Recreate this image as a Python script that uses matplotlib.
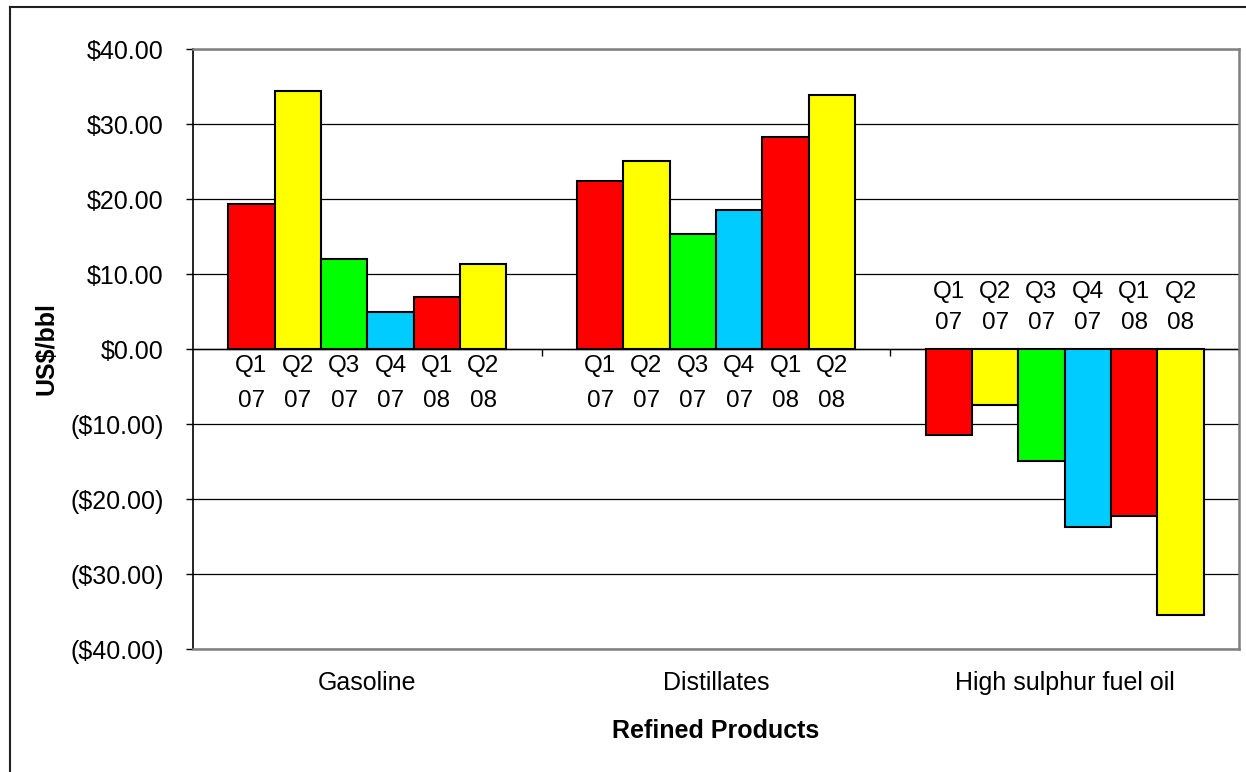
import matplotlib.pyplot as plt
from matplotlib.lines import Line2D
from matplotlib.ticker import FuncFormatter

# crack spreads by product and quarter (US$/bbl)
products = ["Gasoline", "Distillates", "High sulphur fuel oil"]
quarters = ["Q1\n07", "Q2\n07", "Q3\n07", "Q4\n07", "Q1\n08", "Q2\n08"]
gasoline = [19.4, 34.4, 12.0, 5.0, 7.0, 11.4]
distillates = [22.4, 25.1, 15.4, 18.6, 28.3, 33.9]
hsfo = [-11.5, -7.5, -14.9, -23.7, -22.2, -35.5]
bar_colors = ["#FF0000", "#FFFF00", "#00FF00", "#00CCFF", "#FF0000", "#FFFF00"]

plt.rcParams["font.family"] = ["Liberation Sans", "DejaVu Sans"]


def money(v, pos=None):
    if v < 0:
        return "(${:.2f})".format(-v)
    return "${:.2f}".format(v)


def main():
    fig = plt.figure(figsize=(12.46, 7.72), dpi=100)
    ax = fig.add_axes([0.1549, 0.1593, 0.8395, 0.7772])

    values = [gasoline, distillates, hsfo]
    width = 0.133
    n = len(quarters)

    for i, series in enumerate(values):
        for j, v in enumerate(series):
            x = i + (j - (n - 1) / 2) * width
            ax.bar(x, v, width=width, color=bar_colors[j],
                   edgecolor="black", linewidth=1.5, zorder=3)
            # quarter label sits at the zero line, on the opposite side of the bar
            if v >= 0:
                ax.text(x, -0.8, quarters[j], ha="center", va="top",
                        fontsize=17.5, linespacing=1.75, zorder=4)
            else:
                ax.text(x, 2.0, quarters[j], ha="center", va="bottom",
                        fontsize=17.5, linespacing=1.55, zorder=4)

    ax.set_xlim(-0.5, 2.5)
    ax.set_ylim(-40, 40)
    ax.set_yticks(range(-40, 41, 10))
    ax.yaxis.set_major_formatter(FuncFormatter(money))
    ax.tick_params(axis="y", direction="out", length=5, width=1,
                   labelsize=18, pad=16, colors="black")
    ax.set_xticks([])

    ax.grid(axis="y", color="black", linewidth=0.9, zorder=0)
    ax.axhline(0, color="black", linewidth=1, zorder=2)
    ax.vlines([0.5, 1.5, 2.5], -0.9, 0, color="black", linewidth=1, zorder=2)

    for side in ["top", "right", "bottom"]:
        ax.spines[side].set_color("#808080")
        ax.spines[side].set_linewidth(1.8)
    ax.spines["left"].set_color("black")
    ax.spines["left"].set_linewidth(1.2)

    for i, name in enumerate(products):
        ax.text(i, -0.0567, name, transform=ax.get_xaxis_transform(),
                ha="center", va="center", fontsize=18)

    ax.text(0.5, -0.137, "Refined Products", transform=ax.transAxes,
            ha="center", va="center", fontsize=18, fontweight="bold")
    ax.text(-0.1396, 0.5, "US$/bbl", transform=ax.transAxes, rotation=90,
            ha="center", va="center", fontsize=18, fontweight="bold")

    # chart area frame (left and top edges)
    fig.add_artist(Line2D([10 / 1246, 10 / 1246], [0, 1 - 7 / 772],
                          transform=fig.transFigure, color="#202020", linewidth=1.5))
    fig.add_artist(Line2D([10 / 1246, 1], [1 - 7 / 772, 1 - 7 / 772],
                          transform=fig.transFigure, color="#202020", linewidth=1.5))

    fig.savefig("out.png", dpi=100)


if __name__ == "__main__":
    main()
